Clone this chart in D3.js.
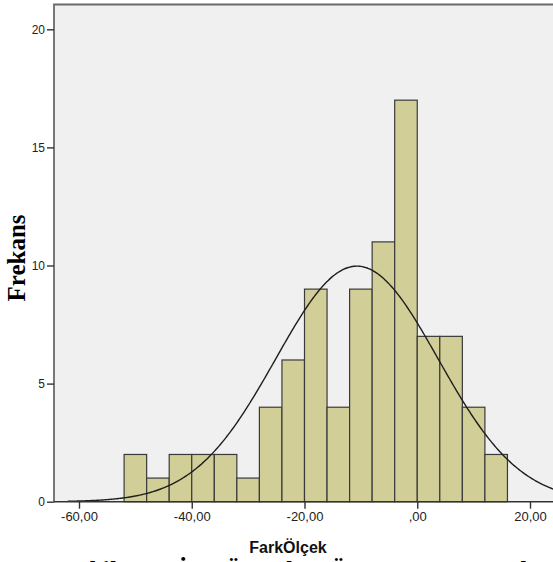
<!DOCTYPE html>
<html>
<head>
<meta charset="utf-8">
<script src="https://cdn.jsdelivr.net/npm/d3@7"></script>
<style>
  body { margin: 0; background: #fff; overflow: hidden; }
  svg { display: block; }
</style>
</head>
<body>
<div id="chart"></div>
<script>
// histogram bins (lower edges) and counts
const binLo = [-52, -48, -44, -40, -36, -32, -28, -24, -20, -16, -12, -8, -4, 0, 4, 8, 12];
const binWidth = 4;
const counts = [2, 1, 2, 2, 2, 1, 4, 6, 9, 4, 9, 11, 17, 7, 7, 4, 2];
// normal curve params (SPSS fit)
const mean = -10.7;
const sd = 14.4;
const yTicks = [0, 5, 10, 15, 20];
const xTicks = [-60, -40, -20, 0, 20];
const xTickLabels = ['-60,00', '-40,00', '-20,00', ',00', '20,00'];

const width = 553, height = 562;
const svg = d3.select('#chart').append('svg')
  .attr('width', width)
  .attr('height', height);

const x = d3.scaleLinear().domain([-60, 20]).range([79, 530]);
const y = d3.scaleLinear().domain([0, 20]).range([501.7, 29.3]);

const plotL = 54, plotT = 4.5, plotR = 580, plotB = y(0);

// plot background
svg.append('rect')
  .attr('x', plotL).attr('y', plotT)
  .attr('width', plotR - plotL).attr('height', plotB - plotT)
  .attr('fill', '#f0f0f0');

// bars
const data = binLo.map((lo, i) => ({lo: lo, n: counts[i]}));
svg.selectAll('rect.bar')
  .data(data)
  .enter()
  .append('rect')
  .attr('class', 'bar')
  .attr('x', d => x(d.lo))
  .attr('y', d => y(d.n))
  .attr('width', d => x(d.lo + binWidth) - x(d.lo))
  .attr('height', d => y(0) - y(d.n))
  .attr('fill', '#d2ce98')
  .attr('stroke', '#3a3a3a')
  .attr('stroke-width', 1.2);

// normal curve
const N = d3.sum(counts);
const dens = v => N * binWidth / (sd * Math.sqrt(2 * Math.PI)) * Math.exp(-0.5 * ((v - mean) / sd) ** 2);
const xs = d3.range(-62, 26, 0.25);
const line = d3.line().x(v => x(v)).y(v => y(dens(v))).curve(d3.curveBasis);
svg.append('path')
  .datum(xs)
  .attr('d', line)
  .attr('fill', 'none')
  .attr('stroke', '#1e1e1e')
  .attr('stroke-width', 1.4);

// frame
svg.append('path')
  .attr('d', `M${plotL},${plotB}V${plotT}H${plotR}`)
  .attr('fill', 'none')
  .attr('stroke', '#6a6a6a')
  .attr('stroke-width', 1.8);
svg.append('line')
  .attr('x1', plotL).attr('x2', plotR)
  .attr('y1', plotB).attr('y2', plotB)
  .attr('stroke', '#333')
  .attr('stroke-width', 1.5);

// axes
const yAxis = svg.append('g')
  .attr('transform', `translate(${plotL},0)`)
  .call(d3.axisLeft(y).tickValues(yTicks).tickSize(7).tickPadding(2));
const xAxis = svg.append('g')
  .attr('transform', `translate(0,${plotB})`)
  .call(d3.axisBottom(x).tickValues(xTicks).tickSize(7).tickPadding(3)
    .tickFormat((d, i) => xTickLabels[i]));
[yAxis, xAxis].forEach(g => {
  g.select('.domain').remove();
  g.selectAll('.tick line').attr('stroke', '#333').attr('stroke-width', 1.4);
  g.selectAll('.tick text')
    .attr('fill', '#222')
    .style('font-family', 'Arial, "Liberation Sans", sans-serif');
});
yAxis.selectAll('.tick text').style('font-size', '12px');
xAxis.selectAll('.tick text').style('font-size', '13px');

// axis titles
svg.append('text')
  .attr('x', 288).attr('y', 553)
  .attr('text-anchor', 'middle')
  .style('font-family', 'Arial, "Liberation Sans", sans-serif')
  .style('font-weight', 'bold')
  .style('font-size', '16px')
  .attr('fill', '#111')
  .text('FarkÖlçek');

svg.append('text')
  .attr('transform', 'translate(25,258) rotate(-90)')
  .attr('text-anchor', 'middle')
  .style('font-family', '"Times New Roman", "Liberation Serif", serif')
  .style('font-weight', 'bold')
  .style('font-size', '25px')
  .attr('fill', '#000')
  .text('Frekans');

// caption (mostly below the bottom edge)
svg.append('text')
  .attr('x', 62).attr('y', 579)
  .style('font-family', '"Times New Roman", "Liberation Serif", serif')
  .style('font-style', 'italic')
  .style('font-weight', 'bold')
  .style('font-size', '26px')
  .style('word-spacing', '6px')
  .attr('fill', '#000')
  .text('Şekil 6. PİRDÖ Anlar Ön-Son Test Fark');
</script>
</body>
</html>
